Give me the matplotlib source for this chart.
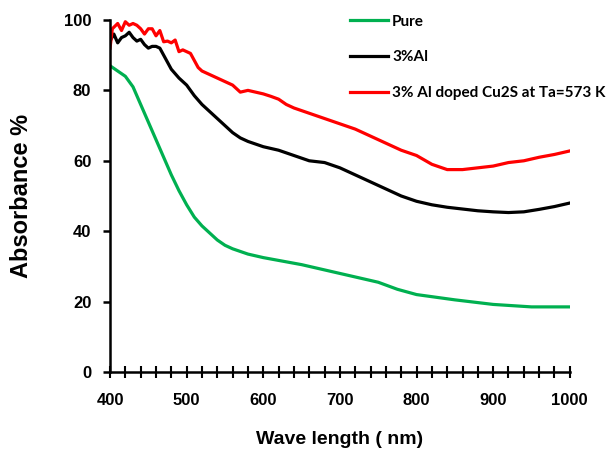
import numpy as np
import matplotlib.pyplot as plt
from matplotlib.ticker import MultipleLocator

# wavelength (nm) and absorbance (%)
wl_pure = [400, 410, 420, 430, 440, 450, 460, 470, 480, 490, 500, 510, 520, 530,
           540, 550, 560, 580, 600, 650, 700, 750, 775, 800, 850, 900, 950, 1000]
abs_pure = [87, 85.5, 84, 81, 76, 71, 66, 61, 56, 51.5, 47.5, 44, 41.5, 39.5,
            37.5, 36, 35, 33.5, 32.5, 30.5, 28, 25.5, 23.5, 22, 20.5, 19.2, 18.5, 18.5]

wl_al = [400, 405, 410, 415, 420, 425, 430, 435, 440, 445, 450, 455, 460, 465, 470,
         475, 480, 490, 500, 510, 520, 530, 540, 550, 560, 570, 580, 600, 620, 640,
         660, 680, 700, 720, 740, 760, 780, 800, 820, 840, 860, 880, 900, 920, 940,
         960, 980, 1000]
abs_al = [94, 96, 93.5, 95, 95.5, 96.5, 95, 94, 94.5, 93, 92, 92.5, 92.5, 92, 90,
          88, 86, 83.5, 81.5, 78.5, 76, 74, 72, 70, 68, 66.5, 65.5, 64, 63, 61.5,
          60, 59.5, 58, 56, 54, 52, 50, 48.5, 47.5, 46.8, 46.3, 45.8, 45.5, 45.3, 45.5,
          46.2, 47, 48]

wl_ann = [400, 403, 410, 415, 420, 425, 430, 435, 440, 445, 450, 455, 460, 465, 470,
          475, 480, 485, 490, 495, 500, 505, 510, 515, 520, 530, 540, 550, 560, 570,
          580, 590, 600, 610, 620, 630, 640, 660, 680, 700, 720, 740, 760, 780, 800,
          820, 840, 860, 880, 900, 920, 940, 960, 980, 1000]
abs_ann = [92, 97.5, 99, 97, 99.5, 98.5, 99, 98.5, 97.5, 96, 97.5, 97.5, 95.5, 97, 93.8,
           94, 93.5, 94.3, 91, 91.5, 91, 90.5, 88.5, 86.5, 85.5, 84.5, 83.5, 82.5, 81.5, 79.5,
           80, 79.5, 79, 78.3, 77.5, 76, 75, 73.5, 72, 70.5, 69, 67, 65, 63, 61.5,
           59, 57.5, 57.5, 58, 58.5, 59.5, 60, 61, 61.8, 62.8]

labels = ['Pure', '3%Al', '3% Al doped Cu2S at Ta=573 K']
colors = ['#00b050', '#000000', '#ff0000']

fig = plt.figure(figsize=(6.16, 4.59), dpi=100)
ax = fig.add_axes([0.1786, 0.1895, 0.7464, 0.767])

ax.plot(wl_pure, abs_pure, color=colors[0], lw=2.3, label=labels[0])
ax.plot(wl_al, abs_al, color=colors[1], lw=2.3, label=labels[1])
ax.plot(wl_ann, abs_ann, color=colors[2], lw=2.3, label=labels[2])

ax.set_xlim(400, 1000)
ax.set_ylim(0, 100)
ax.xaxis.set_major_locator(MultipleLocator(100))
ax.xaxis.set_minor_locator(MultipleLocator(20))
ax.yaxis.set_major_locator(MultipleLocator(20))

for s in ['top', 'right']:
    ax.spines[s].set_visible(False)
for s in ['left', 'bottom']:
    ax.spines[s].set_linewidth(1.8)

ax.tick_params(axis='x', which='both', direction='inout', length=8, width=1.5)
ax.tick_params(axis='x', which='major', pad=11)
ax.tick_params(axis='y', which='major', direction='out', length=5, width=1.8, pad=8.5)
ax.tick_params(axis='both', labelsize=12)
for t in ax.get_xticklabels() + ax.get_yticklabels():
    t.set_fontfamily('Liberation Sans')
    t.set_fontweight('bold')

ax.set_xlabel('Wave length ( nm)', fontsize=14, fontweight='bold',
              fontfamily='Liberation Sans', labelpad=17)
ax.set_ylabel('Absorbance %', fontsize=17, fontweight='bold',
              fontfamily='Liberation Sans', labelpad=22)

leg = fig.legend(loc='upper left', bbox_to_anchor=(0.556, 0.985), frameon=False,
                 borderpad=0, handlelength=2.5, labelspacing=1.42, handletextpad=0.25,
                 prop={'family': 'Lato', 'weight': 'bold', 'size': 11})

fig.savefig('out.png', dpi=100)
